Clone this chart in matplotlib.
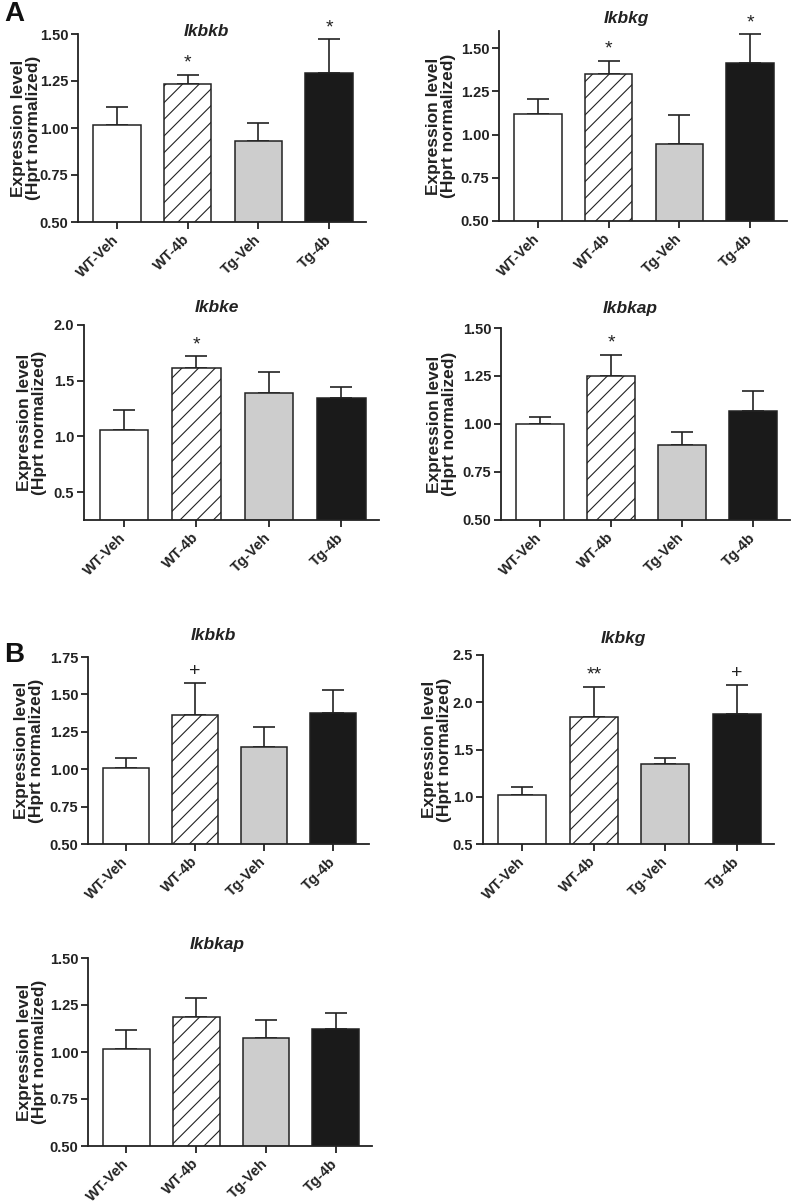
import matplotlib
matplotlib.use("Agg")
import matplotlib.pyplot as plt
import numpy as np

plt.rcParams['font.family'] = ['Liberation Sans', 'DejaVu Sans']
plt.rcParams['hatch.linewidth'] = 0.8

groups = ["WT-Veh", "WT-4b", "Tg-Veh", "Tg-4b"]

# panel A
a_ikbkb_mean = [1.016, 1.234, 0.933, 1.294]
a_ikbkb_err = [0.094, 0.050, 0.095, 0.179]
a_ikbkb_sig = ["", "*", "", "*"]

a_ikbkg_mean = [1.117, 1.350, 0.948, 1.415]
a_ikbkg_err = [0.091, 0.079, 0.167, 0.166]
a_ikbkg_sig = ["", "*", "", "*"]

a_ikbke_mean = [1.054, 1.611, 1.392, 1.347]
a_ikbke_err = [0.179, 0.111, 0.183, 0.099]
a_ikbke_sig = ["", "*", "", ""]

a_ikbkap_mean = [1.000, 1.248, 0.892, 1.066]
a_ikbkap_err = [0.035, 0.113, 0.065, 0.108]
a_ikbkap_sig = ["", "*", "", ""]

# panel B
b_ikbkb_mean = [1.007, 1.363, 1.147, 1.374]
b_ikbkb_err = [0.065, 0.214, 0.134, 0.156]
b_ikbkb_sig = ["", "+", "", ""]

b_ikbkg_mean = [1.017, 1.846, 1.344, 1.871]
b_ikbkg_err = [0.084, 0.320, 0.066, 0.316]
b_ikbkg_sig = ["", "**", "", "+"]

b_ikbkap_mean = [1.018, 1.188, 1.076, 1.124]
b_ikbkap_err = [0.097, 0.099, 0.094, 0.082]
b_ikbkap_sig = ["", "", "", ""]

W, H = 795, 1204
fig = plt.figure(figsize=(W / 100, H / 100), dpi=100)

face = ["white", "white", "#cdcdcd", "#1a1a1a"]
hatches = ["", "//", "", ""]


def px_axes(left, right, top, bottom):
    return fig.add_axes([left / W, 1 - bottom / H, (right - left) / W, (bottom - top) / H])


def panel(box, title, title_xy, ylab_x, mean, err, sig, ylim, yticks, fmt):
    ax = px_axes(*box)
    x = np.arange(len(groups))
    ax.bar(x, mean, width=0.67, color=face, edgecolor="#222222",
           linewidth=1.1, hatch=hatches, zorder=2)
    ax.errorbar(x, mean, yerr=[np.zeros(len(err)), err], fmt="none",
                ecolor="#222222", elinewidth=1.2, capsize=8, capthick=1.2,
                zorder=1)
    for xi, m, e, s in zip(x, mean, err, sig):
        if s:
            ax.annotate(s, (xi, m + e), xytext=(0, 2), textcoords="offset points",
                        ha="center", va="bottom", fontsize=14, color="#222222")
    ax.set_xlim(-0.55, 3.52)
    ax.set_ylim(*ylim)
    ax.set_yticks(yticks)
    ax.set_yticklabels([fmt.format(t) for t in yticks])
    ax.set_xticks(x)
    ax.set_xticklabels(groups, rotation=45, ha="right", va="center",
                       rotation_mode="anchor")
    for sp in ["top", "right"]:
        ax.spines[sp].set_visible(False)
    for sp in ["left", "bottom"]:
        ax.spines[sp].set_linewidth(1.3)
        ax.spines[sp].set_color("#222222")
    ax.tick_params(axis="both", direction="out", length=5, width=1.3,
                   color="#222222", labelsize=10.5, labelcolor="#222222")
    ax.tick_params(axis="x", pad=6)
    ax.tick_params(axis="y", pad=2)
    for lab in ax.get_xticklabels() + ax.get_yticklabels():
        lab.set_fontweight("bold")
    fig.text(title_xy[0] / W, 1 - title_xy[1] / H, title, ha="center",
             va="center", fontsize=12.5, fontweight="bold", style="italic",
             color="#222222")
    yc = (box[2] + box[3]) / 2
    fig.text(ylab_x / W, 1 - yc / H, "Expression level\n(Hprt normalized)",
             rotation=90, ha="center", va="center", fontsize=12.5,
             fontweight="bold", color="#222222", linespacing=1.0)
    return ax


q = [0.5, 0.75, 1.0, 1.25, 1.5]
panel((78, 366, 34, 222), "Ikbkb", (206, 32), 26, a_ikbkb_mean, a_ikbkb_err,
      a_ikbkb_sig, (0.5, 1.5), q, "{:.2f}")
panel((499, 787, 31, 221), "Ikbkg", (626, 19), 441, a_ikbkg_mean, a_ikbkg_err,
      a_ikbkg_sig, (0.5, 1.6), q, "{:.2f}")
panel((84, 379, 325, 520), "Ikbke", (217, 307), 32, a_ikbke_mean, a_ikbke_err,
      a_ikbke_sig, (0.25, 2.0), [0.5, 1.0, 1.5, 2.0], "{:.1f}")
panel((501, 790, 328, 520), "Ikbkap", (630, 308), 442, a_ikbkap_mean, a_ikbkap_err,
      a_ikbkap_sig, (0.5, 1.5), q, "{:.2f}")
panel((88, 369, 657, 844), "Ikbkb", (213, 635), 29, b_ikbkb_mean, b_ikbkb_err,
      b_ikbkb_sig, (0.5, 1.75), q + [1.75], "{:.2f}")
panel((483, 774, 655, 844), "Ikbkg", (623, 638), 437, b_ikbkg_mean, b_ikbkg_err,
      b_ikbkg_sig, (0.5, 2.5), [0.5, 1.0, 1.5, 2.0, 2.5], "{:.1f}")
panel((88, 372, 958, 1146), "Ikbkap", (217, 944), 32, b_ikbkap_mean, b_ikbkap_err,
      b_ikbkap_sig, (0.5, 1.5), q, "{:.2f}")

fig.text(14 / W, 1 - 14 / H, "A", ha="center", va="center", fontsize=20,
         fontweight="bold", color="#111111")
fig.text(14 / W, 1 - 655 / H, "B", ha="center", va="center", fontsize=20,
         fontweight="bold", color="#111111")

fig.savefig("out.png", dpi=100)
